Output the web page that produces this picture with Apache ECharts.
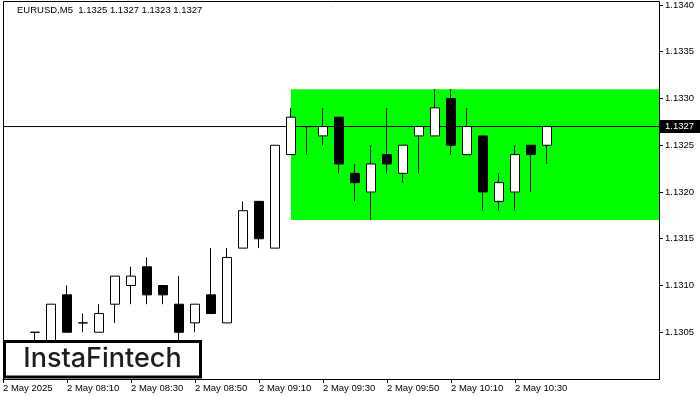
<!DOCTYPE html>
<html>
<head>
<meta charset="utf-8">
<script src="https://cdn.jsdelivr.net/npm/echarts@6/dist/echarts.min.js"></script>
<style>html,body{margin:0;padding:0;background:#fff}#c{width:700px;height:400px}</style>
</head>
<body>
<div id="c"></div>
<script>
// ---- data ----
const times = ['07:50','07:55','08:00','08:05','08:10','08:15','08:20','08:25','08:30','08:35',
  '08:40','08:45','08:50','08:55','09:00','09:05','09:10','09:15','09:20','09:25',
  '09:30','09:35','09:40','09:45','09:50','09:55','10:00','10:05','10:10','10:15',
  '10:20','10:25','10:30','10:35','10:40','10:45','10:50','10:55','11:00','11:05',
  '11:10','11:15'];
const opens  = [null,null,1.1305,1.1303,1.1309,1.1306,1.1305,1.1308,1.1310,1.1312,
  1.1310,1.1308,1.1306,1.1309,1.1306,1.1314,1.1319,1.1314,1.1324,1.1327,
  1.1326,1.1328,1.1322,1.1320,1.1324,1.1322,1.1326,1.1326,1.1330,1.1324,
  1.1326,1.1319,1.1320,1.1325,1.1325];
const highs  = [null,null,1.1305,1.1308,1.1310,1.1307,1.1308,1.1311,1.1312,1.1313,
  1.1310,1.1311,1.1308,1.1314,1.1314,1.1319,1.1319,1.1325,1.1329,1.1327,
  1.1329,1.1328,1.1323,1.1325,1.1329,1.1325,1.1327,1.1331,1.1331,1.1329,
  1.1326,1.1322,1.1325,1.1325,1.1327];
const lows   = [null,null,1.1303,1.1302,1.1305,1.1305,1.1305,1.1306,1.1308,1.1308,
  1.1308,1.1304,1.1305,1.1307,1.1306,1.1314,1.1314,1.1314,1.1324,1.1324,
  1.1325,1.1322,1.1319,1.1317,1.1322,1.1321,1.1322,1.1326,1.1324,1.1324,
  1.1318,1.1318,1.1318,1.1320,1.1323];
const closes = [null,null,1.1305,1.1308,1.1305,1.1306,1.1307,1.1311,1.1311,1.1309,
  1.1309,1.1305,1.1308,1.1307,1.1313,1.1318,1.1315,1.1325,1.1328,1.1327,
  1.1327,1.1323,1.1321,1.1323,1.1323,1.1325,1.1327,1.1329,1.1325,1.1327,
  1.1320,1.1321,1.1324,1.1324,1.1327];
const xTickLabels = ['2 May 2025','2 May 08:10','2 May 08:30','2 May 08:50','2 May 09:10',
  '2 May 09:30','2 May 09:50','2 May 10:10','2 May 10:30'];
const yTicks = ['1.1300','1.1305','1.1310','1.1315','1.1320','1.1325','1.1330','1.1335','1.1340'];
const rangeTop = 1.1331, rangeBottom = 1.1317, rangeStartIndex = 18;
const symbolName = 'EURUSD,M5';
const logoText = 'InstaFintech';

// ---- build ----
const n = opens.length;
const candles = opens.map((o, i) => o == null ? '-' : [o, closes[i], lows[i], highs[i]]);
const lastO = opens[n-1], lastH = highs[n-1], lastL = lows[n-1], lastC = closes[n-1];
const tickStep = 4;
const lastIdx = n - 1;
const showTick = (i) => i % tickStep === 0 && i <= lastIdx && xTickLabels[i / tickStep] !== undefined;
const font = 'Liberation Sans';
const priceLine = times.map(() => lastC);

const chart = echarts.init(document.getElementById('c'), null, {renderer: 'canvas'});
chart.setOption({
  animation: false,
  backgroundColor: '#fff',
  grid: {left: 3, top: 5, width: 656, height: 374, containLabel: false},
  xAxis: {
    type: 'category', data: times, boundaryGap: false,
    axisLine: {show: true, lineStyle: {color: '#000', width: 1}},
    axisTick: {show: true, interval: (i) => showTick(i), length: 4, lineStyle: {color: '#000'}},
    axisLabel: {interval: (i) => showTick(i), formatter: (v, i) => xTickLabels[i / tickStep] || '',
      align: 'left', margin: 4, color: '#000', fontFamily: font, fontSize: 9.5},
    splitLine: {show: false}
  },
  yAxis: {
    type: 'value', position: 'right',
    min: parseFloat(yTicks[0]), max: parseFloat(yTicks[yTicks.length-1]), interval: 0.0005,
    axisLine: {show: true, lineStyle: {color: '#000', width: 1}},
    axisTick: {show: true, length: 4, lineStyle: {color: '#000'}},
    axisLabel: {showMinLabel: false, margin: 6, color: '#000', fontFamily: font, fontSize: 9.5,
      formatter: (v) => v.toFixed(4)},
    splitLine: {show: false}
  },
  series: [
    {
      type: 'line', data: [], z: 1, silent: true,
      markArea: {silent: true, itemStyle: {color: '#00ff00', opacity: 1},
        data: [[{coord: [times[rangeStartIndex], rangeTop]}, {coord: [times[times.length-1], rangeBottom]}]]}
    },
    {
      type: 'line', data: priceLine, z: 2, silent: true, symbol: 'none', showSymbol: false,
      lineStyle: {color: '#000', width: 1},
      endLabel: {show: true, distance: 1, formatter: () => lastC.toFixed(4),
        color: '#fff', backgroundColor: '#000', padding: [2,6,1,5], fontFamily: font, fontSize: 9.5}
    },
    {
      type: 'candlestick', data: candles, z: 5, barWidth: 10,
      itemStyle: {color: '#fff', color0: '#000', borderColor: '#000', borderColor0: '#000', borderWidth: 1}
    }
  ],
  graphic: [
    {type: 'rect', z: 0, silent: true, shape: {x: 3.5, y: 1.5, width: 656, height: 378},
      style: {fill: null, stroke: '#000', lineWidth: 1}},
    {type: 'text', z: 10, left: 17, top: 5,
      style: {text: symbolName + '  ' + [lastO, lastH, lastL, lastC].map(v => v.toFixed(4)).join(' '),
        fill: '#000', font: '9.5px "Liberation Sans"'}},
    {type: 'rect', z: 50, silent: true, shape: {x: 4.5, y: 341.5, width: 196, height: 35.5},
      style: {fill: '#fff', stroke: '#000', lineWidth: 3}},
    {type: 'text', z: 51, silent: true, x: 102.5, y: 358.5,
      style: {text: logoText, fill: '#1e1e1e', font: '500 27px Inter', textAlign: 'center', textVerticalAlign: 'middle'}}
  ]
});
</script>
</body>
</html>
